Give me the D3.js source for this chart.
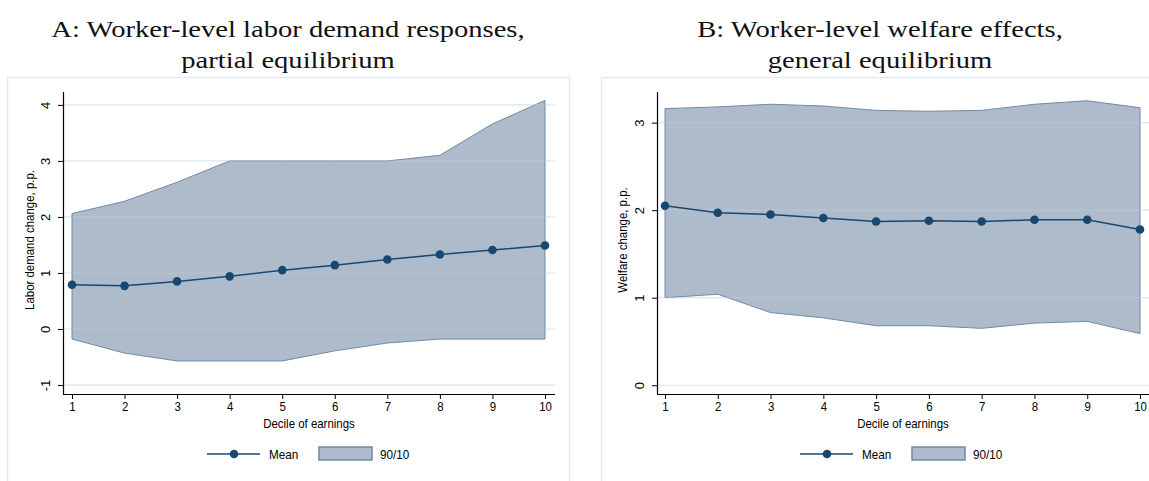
<!DOCTYPE html>
<html>
<head>
<meta charset="utf-8">
<script src="https://cdn.jsdelivr.net/npm/d3@7"></script>
<style>
  body { margin: 0; background: #fff; }
  svg { display: block; }
  .tick text { font-family: "Liberation Sans", Arial, sans-serif; font-size: 13px; fill: #000; }
  .title { font-family: "Liberation Serif", "DejaVu Serif", serif; font-size: 24px; fill: #111; }
  .lab { font-family: "Liberation Sans", Arial, sans-serif; font-size: 13px; fill: #000; }
</style>
</head>
<body>
<div id="chart"></div>
<script>
var deciles = [1, 2, 3, 4, 5, 6, 7, 8, 9, 10];

// panel A: labor demand change, p.p.
var demandMean = [0.79, 0.77, 0.85, 0.94, 1.05, 1.14, 1.24, 1.33, 1.41, 1.49];
var demandHigh = [2.06, 2.28, 2.62, 3.00, 3.00, 3.00, 3.00, 3.10, 3.66, 4.08];
var demandLow = [-0.18, -0.43, -0.57, -0.57, -0.57, -0.39, -0.25, -0.18, -0.18, -0.18];
var demandTicks = [-1, 0, 1, 2, 3, 4];

// panel B: welfare change, p.p.
var welfareMean = [2.05, 1.97, 1.95, 1.91, 1.87, 1.88, 1.87, 1.89, 1.89, 1.78];
var welfareHigh = [3.16, 3.18, 3.21, 3.19, 3.14, 3.13, 3.14, 3.21, 3.25, 3.17];
var welfareLow = [1.00, 1.04, 0.83, 0.77, 0.68, 0.68, 0.65, 0.71, 0.73, 0.59];
var welfareTicks = [0, 1, 2, 3];

var W = 1149, H = 481;
var navy = "#1a476f", bandFill = "#adbbca", bandLine = "#6f8aa4", gridCol = "#e6eff1";

var svg = d3.select("#chart").append("svg").attr("width", W).attr("height", H);

// stretch or squeeze a text node to mimic the narrower / wider fonts of the original
function fitWidth(sel, k) {
    sel.each(function() {
        var w = this.getComputedTextLength();
        d3.select(this).attr("textLength", w * k).attr("lengthAdjust", "spacingAndGlyphs");
    });
}

function drawPanel(p) {
    var g = svg.append("g");

    g.append("rect")
        .attr("x", p.box[0] + 0.5).attr("y", 77.5)
        .attr("width", p.box[1] - p.box[0]).attr("height", 420)
        .attr("fill", "none").attr("stroke", "#e3ebee").attr("stroke-width", 1.5);

    p.title.forEach(function(t, i) {
        g.append("text").attr("class", "title")
            .attr("x", p.titleX).attr("y", 37 + i * 31)
            .attr("text-anchor", "middle").text(t)
            .call(fitWidth, 1.19);
    });

    var x = d3.scaleLinear().domain([1, 10]).range(p.xr);
    var y = d3.scaleLinear().domain(p.yd).range([394, 92]);

    g.append("g").selectAll("line").data(p.ticks).enter().append("line")
        .attr("x1", p.axisX).attr("x2", p.gridEnd)
        .attr("y1", function(d) { return y(d); }).attr("y2", function(d) { return y(d); })
        .attr("stroke", gridCol).attr("stroke-width", 1.2);

    var rows = deciles.map(function(d, i) {
        return { d: d, m: p.mean[i], hi: p.high[i], lo: p.low[i] };
    });

    var area = d3.area()
        .x(function(r) { return x(r.d); })
        .y0(function(r) { return y(r.lo); })
        .y1(function(r) { return y(r.hi); });

    g.append("path").datum(rows)
        .attr("d", function(r) { return area(r) + "Z"; })
        .attr("fill", bandFill)
        .attr("stroke", bandLine).attr("stroke-width", 1);

    // grid shows faintly through the band
    g.append("g").selectAll("line").data(p.ticks).enter().append("line")
        .attr("x1", p.axisX).attr("x2", p.gridEnd)
        .attr("y1", function(d) { return y(d); }).attr("y2", function(d) { return y(d); })
        .attr("stroke", "#c8d8e0").attr("stroke-opacity", 0.35).attr("stroke-width", 1.2);

    var line = d3.line()
        .x(function(r) { return x(r.d); })
        .y(function(r) { return y(r.m); });

    g.append("path").datum(rows).attr("d", line)
        .attr("fill", "none").attr("stroke", navy).attr("stroke-width", 1.5);

    g.append("g").selectAll("circle").data(rows).enter().append("circle")
        .attr("cx", function(r) { return x(r.d); })
        .attr("cy", function(r) { return y(r.m); })
        .attr("r", 4.3).attr("fill", navy);

    // axes
    var xAxis = g.append("g").attr("transform", "translate(0,394)")
        .call(d3.axisBottom(x).tickValues(deciles).tickSize(5).tickSizeOuter(0).tickPadding(3)
            .tickFormat(function(d) { return String(d); }));
    xAxis.select(".domain").remove();
    xAxis.selectAll(".tick line").attr("stroke", "#000");
    xAxis.selectAll(".tick text").call(fitWidth, 0.88);
    g.append("line").attr("x1", p.axisX).attr("x2", p.axisEnd)
        .attr("y1", 394.5).attr("y2", 394.5).attr("stroke", "#000").attr("stroke-width", 1.2);

    var yAxis = g.append("g").attr("transform", "translate(" + p.axisX + ",0)")
        .call(d3.axisLeft(y).tickValues(p.ticks).tickSize(5).tickSizeOuter(0)
            .tickFormat(function(d) { return String(d); }));
    yAxis.select(".domain").remove();
    yAxis.selectAll(".tick line").attr("stroke", "#000");
    yAxis.selectAll(".tick text")
        .attr("x", null).attr("dy", null)
        .attr("text-anchor", "middle")
        .attr("transform", "translate(-13,0) rotate(-90)")
        .attr("y", 0);
    g.append("line").attr("x1", p.axisX + 0.5).attr("x2", p.axisX + 0.5)
        .attr("y1", 92).attr("y2", 394.5).attr("stroke", "#000").attr("stroke-width", 1.2);

    g.append("text").attr("class", "lab")
        .attr("x", (p.axisX + p.axisEnd) / 2).attr("y", 428)
        .attr("text-anchor", "middle").text("Decile of earnings")
        .call(fitWidth, 0.88);

    g.append("text").attr("class", "lab")
        .attr("transform", "translate(" + p.yTitleX + ",240) rotate(-90)")
        .attr("text-anchor", "middle").text(p.yTitle)
        .call(fitWidth, 0.88);

    // legend
    var lg = g.append("g").attr("transform", "translate(" + p.legendX + ",454)");
    lg.append("line").attr("x1", 0).attr("x2", 53).attr("stroke", navy).attr("stroke-width", 1.5);
    lg.append("circle").attr("cx", 27).attr("r", 4.3).attr("fill", navy);
    lg.append("text").attr("class", "lab").attr("x", 62).attr("y", 5).text("Mean").call(fitWidth, 0.9);
    lg.append("rect").attr("x", 112).attr("y", -7).attr("width", 53).attr("height", 13)
        .attr("fill", bandFill).attr("stroke", bandLine).attr("stroke-width", 1.5);
    lg.append("text").attr("class", "lab").attr("x", 173).attr("y", 5).text("90/10").call(fitWidth, 0.9);
}

drawPanel({
    box: [7, 569], titleX: 288,
    title: ["A: Worker-level labor demand responses,", "partial equilibrium"],
    xr: [72, 545], axisX: 63, axisEnd: 555, gridEnd: 555,
    yd: [-1.16, 4.23], ticks: demandTicks,
    mean: demandMean, high: demandHigh, low: demandLow,
    yTitle: "Labor demand change, p.p.", yTitleX: 34, legendX: 207
});

drawPanel({
    box: [601, 1160], titleX: 880,
    title: ["B: Worker-level welfare effects,", "general equilibrium"],
    xr: [665, 1140], axisX: 657, axisEnd: 1149, gridEnd: 1149,
    yd: [-0.1, 3.35], ticks: welfareTicks,
    mean: welfareMean, high: welfareHigh, low: welfareLow,
    yTitle: "Welfare change, p.p.", yTitleX: 627, legendX: 800
});
</script>
</body>
</html>
